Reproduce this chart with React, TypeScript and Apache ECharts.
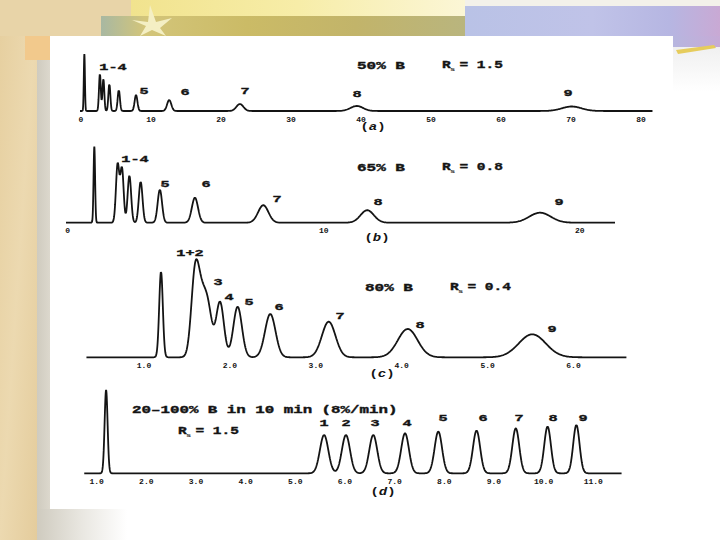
import React, { useEffect, useRef } from "react";
import * as echarts from "echarts";

// ---------- Data ----------
// Panel (a): 50% B, time axis in minutes
const peaksA_time = [0.48, 2.7, 3.2, 4.05, 5.4, 7.86, 12.6, 22.7, 39.4, 70.1];
const peaksA_height = [57, 37, 32, 27, 21, 16, 11, 7, 5, 4.5];
const peaksA_sigma = [0.08, 0.13, 0.13, 0.14, 0.16, 0.2, 0.3, 0.5, 0.9, 1.4];
const ticksA = [0, 10, 20, 30, 40, 50, 60, 70, 80];
const tickLabelsA = ["0", "10", "20", "30", "40", "50", "60", "70", "80"];
const peakLabelsA = ["1-4", "5", "6", "7", "8", "9"];

// Panel (b): 65% B
const peaksB_time = [1.04, 1.95, 2.12, 2.41, 2.85, 3.6, 4.97, 7.64, 11.7, 18.45];
const peaksB_height = [76, 58, 54, 47, 41, 33, 25, 17.5, 12.5, 10];
const peaksB_sigma = [0.03, 0.065, 0.065, 0.068, 0.072, 0.085, 0.12, 0.2, 0.26, 0.42];
const ticksB = [0, 10, 20];
const tickLabelsB = ["0", "10", "20"];
const peakLabelsB = ["1-4", "5", "6", "7", "8", "9"];

// Panel (c): 80% B
const peaksC_time = [1.198, 1.595, 1.665, 1.74, 1.885, 2.09, 2.47, 3.15, 4.07, 5.52];
const peaksC_height = [85.6, 82, 40, 50, 55, 50.5, 43.3, 35.6, 28.3, 23];
const peaksC_sigma = [0.021, 0.045, 0.045, 0.05, 0.045, 0.05, 0.061, 0.079, 0.115, 0.157];
const ticksC = [1, 2, 3, 4, 5, 6];
const tickLabelsC = ["1.0", "2.0", "3.0", "4.0", "5.0", "6.0"];
const peakLabelsC = ["1+2", "3", "4", "5", "6", "7", "8", "9"];

// Panel (d): gradient 20-100% B in 10 min
const peaksD_time = [1.19, 5.58, 6.02, 6.57, 7.21, 7.88, 8.65, 9.44, 10.08, 10.66];
const peaksD_height = [83.3, 38.3, 38.3, 38.3, 40, 41.7, 42.7, 45, 46.7, 48.3];
const peaksD_sigma = [0.03, 0.085, 0.082, 0.08, 0.078, 0.075, 0.072, 0.07, 0.067, 0.064];
const ticksD = [1, 2, 3, 4, 5, 6, 7, 8, 9, 10, 11];
const tickLabelsD = ["1.0", "2.0", "3.0", "4.0", "5.0", "6.0", "7.0", "8.0", "9.0", "10.0", "11.0"];
const peakLabelsD = ["1", "2", "3", "4", "5", "6", "7", "8", "9"];

const conditionA = "50% B";
const conditionB = "65% B";
const conditionC = "80% B";
const conditionD = "20–100% B in 10 min (8%/min)";
const resolutionA = "1.5";
const resolutionB = "0.8";
const resolutionC = "0.4";
const resolutionD = "1.5";

// ---------- Layout (pixels) ----------
const panels = [
  { x0: 81, ppu: 7.0, base: 111, h: 60, tStart: -0.6, tEnd: 81.7, interval: 10, step: 0.02 },
  { x0: 67.7, ppu: 25.6, base: 222.7, h: 80, tStart: -0.15, tEnd: 21.4, interval: 10, step: 0.005 },
  { x0: 58.1, ppu: 85.9, base: 357.3, h: 110, tStart: 0.33, tEnd: 6.62, interval: 1, step: 0.002 },
  { x0: 47.0, ppu: 49.66, base: 473.3, h: 90, tStart: 0.75, tEnd: 11.57, interval: 1, step: 0.004 },
];

function chromatogram(times: number[], heights: number[], sigmas: number[], t0: number, t1: number, step: number) {
  const xs: number[] = [];
  const n = Math.round((t1 - t0) / step);
  for (let i = 0; i <= n; i++) xs.push(t0 + i * step);
  times.forEach((c) => { if (c > t0 && c < t1) xs.push(c); });
  xs.sort((a, b) => a - b);
  return xs.map((t) => {
    let y = 0;
    for (let k = 0; k < times.length; k++) {
      const d = t - times[k];
      y += heights[k] * Math.exp(-(d * d) / (2 * sigmas[k] * sigmas[k]));
    }
    return [t, y];
  });
}

const FONT = "Liberation Mono";
const INK = "#141414";
const STROKE = { stroke: INK, lineWidth: 0.35 };

function peakLabel(text: string, x: number, y: number) {
  return {
    type: "text", x, y, scaleX: 1.6, z: 20,
    style: { text, fill: INK, ...STROKE, font: `bold 9.5px "${FONT}"`, textAlign: "center", textVerticalAlign: "middle" },
  };
}
function condText(text: string, x: number, y: number, sx = 1.6) {
  return {
    type: "text", x, y, scaleX: sx, z: 20,
    style: { text, fill: INK, ...STROKE, font: `bold 10px "${FONT}"`, textAlign: "left", textVerticalAlign: "middle" },
  };
}
function rsText(value: string, x: number, y: number) {
  return {
    type: "group", x, y, scaleX: 1.45, z: 20,
    children: [
      { type: "text", x: 0, y: 0, z: 20, style: { text: "R", fill: INK, ...STROKE, font: `bold 10px "${FONT}"`, textAlign: "left", textVerticalAlign: "middle" } },
      { type: "text", x: 5.5, y: 3, z: 20, style: { text: "s", fill: INK, font: `bold 6px "${FONT}"`, textAlign: "left", textVerticalAlign: "middle" } },
      { type: "text", x: 12, y: 0, z: 20, style: { text: "= " + value, fill: INK, ...STROKE, font: `bold 10px "${FONT}"`, textAlign: "left", textVerticalAlign: "middle" } },
    ],
  };
}
function panelLetter(letter: string, x: number, y: number) {
  return {
    type: "text", x, y, scaleX: 1.4, z: 20,
    style: {
      text: `{p|(}{l|${letter}}{p|)}`,
      textAlign: "center", textVerticalAlign: "middle",
      rich: {
        p: { fill: INK, font: `bold 10px "${FONT}"` },
        l: { fill: INK, font: `italic bold 10px "${FONT}"` },
      },
    },
  };
}

function lin(x: number, y: number, x2: number, y2: number, stops: [number, string][]) {
  return { type: "linear", x, y, x2, y2, colorStops: stops.map(([offset, color]) => ({ offset, color })) };
}

export default function App() {
  const ref = useRef<HTMLDivElement>(null);
  useEffect(() => {
    if (!ref.current) return;
    const chart = echarts.init(ref.current, undefined, { renderer: "svg" });

    const sets = [
      [peaksA_time, peaksA_height, peaksA_sigma, ticksA, tickLabelsA],
      [peaksB_time, peaksB_height, peaksB_sigma, ticksB, tickLabelsB],
      [peaksC_time, peaksC_height, peaksC_sigma, ticksC, tickLabelsC],
      [peaksD_time, peaksD_height, peaksD_sigma, ticksD, tickLabelsD],
    ] as any[];

    const grid = panels.map((p) => ({
      left: p.x0, top: p.base - p.h, width: p.tEnd * p.ppu, height: p.h,
      containLabel: false, outerBoundsMode: "none", show: false,
    }));
    const xAxis = panels.map((p, i) => {
      const ticks: number[] = sets[i][3];
      const labels: string[] = sets[i][4];
      return {
        type: "value", gridIndex: i, min: 0, max: p.tEnd, interval: p.interval,
        axisLine: { show: false }, axisTick: { show: false }, splitLine: { show: false },
        axisLabel: {
          show: true, margin: 4, color: INK, fontSize: 8, fontWeight: "bold", fontFamily: FONT,
          showMinLabel: true, showMaxLabel: true, hideOverlap: false,
          formatter: (v: number) => {
            const k = ticks.findIndex((t) => Math.abs(t - v) < 1e-6);
            return k >= 0 ? labels[k] : "";
          },
        },
      };
    });
    const yAxis = panels.map((p, i) => ({ type: "value", gridIndex: i, min: 0, max: p.h, show: false }));
    const series = panels.map((p, i) => ({
      type: "line", xAxisIndex: i, yAxisIndex: i, showSymbol: false, symbol: "none",
      clip: false, silent: true, z: 5,
      lineStyle: { color: INK, width: 1.8 },
      data: chromatogram(sets[i][0], sets[i][1], sets[i][2], p.tStart, p.tEnd, p.step),
    }));

    const tan = "#e8d4a8";
    const background = [
      { type: "rect", z: -10, shape: { x: 0, y: 0, width: 720, height: 540 }, style: { fill: "#ffffff" } },
      { type: "rect", z: -9, shape: { x: 0, y: 0, width: 37, height: 540 }, style: { fill: lin(0, 0, 1, 1, [[0, "#e6cf9f"], [0.5, "#ecd9b0"], [1, "#e4cc9c"]]) } },
      { type: "rect", z: -9, shape: { x: 0, y: 0, width: 131, height: 36 }, style: { fill: tan } },
      { type: "rect", z: -8, shape: { x: 131, y: 0, width: 334, height: 16 }, style: { fill: lin(0, 0, 1, 0, [[0, "#f1e38e"], [0.5, "#f7eda8"], [1, "#fbf6d6"]]) } },
      { type: "rect", z: -8, shape: { x: 101, y: 16, width: 364, height: 20 }, style: { fill: lin(0, 0, 1, 0, [[0, "#a8b8a2"], [0.12, "#d3c57a"], [0.4, "#cbbb66"], [0.7, "#c2b46a"], [1, "#b9b57e"]]) } },
      { type: "polygon", z: -7, shape: { points: [[150, 5], [156, 22], [172, 18], [160, 28], [166, 36], [152, 30], [140, 36], [146, 26], [132, 20], [148, 22]] }, style: { fill: "#f4efc4" } },
      { type: "rect", z: -8, shape: { x: 465, y: 0, width: 255, height: 6 }, style: { fill: "#f3f1ea" } },
      { type: "rect", z: -8, shape: { x: 465, y: 6, width: 255, height: 30 }, style: { fill: lin(0, 0, 1, 0, [[0, "#b9c2e6"], [0.5, "#c0c3e8"], [0.8, "#b6b6e2"], [1, "#c9a9d4"]]) } },
      { type: "rect", z: -8, shape: { x: 673, y: 36, width: 47, height: 11 }, style: { fill: lin(0, 0, 1, 0, [[0, "#b7b6df"], [1, "#c6aad6"]]) } },
      { type: "polygon", z: -7, shape: { points: [[676, 50], [714, 45], [716, 48], [678, 54]] }, style: { fill: "#e6cc5c" } },
      { type: "rect", z: -8, shape: { x: 673, y: 47, width: 47, height: 45 }, style: { fill: lin(0, 0, 0, 1, [[0, "#f0f0f0"], [1, "#ffffff"]]) } },
      { type: "rect", z: -8, shape: { x: 25, y: 36, width: 25, height: 24 }, style: { fill: "#f2c98c" } },
      { type: "rect", z: -8, shape: { x: 37, y: 60, width: 13, height: 480 }, style: { fill: lin(0, 0, 1, 0, [[0, "#cfcbbf"], [1, "#dcd8cd"]]) } },
      { type: "rect", z: -8, shape: { x: 37, y: 509, width: 90, height: 31 }, style: { fill: lin(0, 0, 1, 0, [[0, "#cfcbbf"], [0.5, "#e9e7e1"], [1, "#ffffff"]]) } },
    ];

    const texts = [
      // (a)
      peakLabel(peakLabelsA[0], 113, 67), peakLabel(peakLabelsA[1], 144, 91), peakLabel(peakLabelsA[2], 185, 92),
      peakLabel(peakLabelsA[3], 245, 91), peakLabel(peakLabelsA[4], 357, 94), peakLabel(peakLabelsA[5], 568, 93),
      condText(conditionA, 357, 66), rsText(resolutionA, 442, 66), panelLetter("a", 373, 128),
      // (b)
      peakLabel(peakLabelsB[0], 135, 159), peakLabel(peakLabelsB[1], 165, 184), peakLabel(peakLabelsB[2], 206, 184),
      peakLabel(peakLabelsB[3], 277, 199), peakLabel(peakLabelsB[4], 378, 202), peakLabel(peakLabelsB[5], 559, 202),
      condText(conditionB, 357, 168), rsText(resolutionB, 442, 168), panelLetter("b", 377, 239),
      // (c)
      peakLabel(peakLabelsC[0], 190, 253), peakLabel(peakLabelsC[1], 218, 282), peakLabel(peakLabelsC[2], 229, 297),
      peakLabel(peakLabelsC[3], 249, 302), peakLabel(peakLabelsC[4], 279, 307), peakLabel(peakLabelsC[5], 340, 316),
      peakLabel(peakLabelsC[6], 420, 325), peakLabel(peakLabelsC[7], 552, 329),
      condText(conditionC, 365, 288), rsText(resolutionC, 450, 288), panelLetter("c", 382, 375),
      // (d)
      condText(conditionD, 132, 410, 1.58), rsText(resolutionD, 178, 432),
      peakLabel(peakLabelsD[0], 324, 423), peakLabel(peakLabelsD[1], 346, 423), peakLabel(peakLabelsD[2], 375, 423),
      peakLabel(peakLabelsD[3], 407, 423), peakLabel(peakLabelsD[4], 443, 418), peakLabel(peakLabelsD[5], 483, 418),
      peakLabel(peakLabelsD[6], 519, 418), peakLabel(peakLabelsD[7], 553, 418), peakLabel(peakLabelsD[8], 583, 418),
      panelLetter("d", 383, 493),
    ];

    chart.setOption({
      animation: false,
      backgroundColor: "#ffffff",
      graphic: { elements: [...background, ...texts] },
      grid, xAxis, yAxis, series,
    } as any);
    return () => chart.dispose();
  }, []);
  return <div ref={ref} style={{ position: "fixed", left: 0, top: 0, width: 720, height: 540 }} />;
}
